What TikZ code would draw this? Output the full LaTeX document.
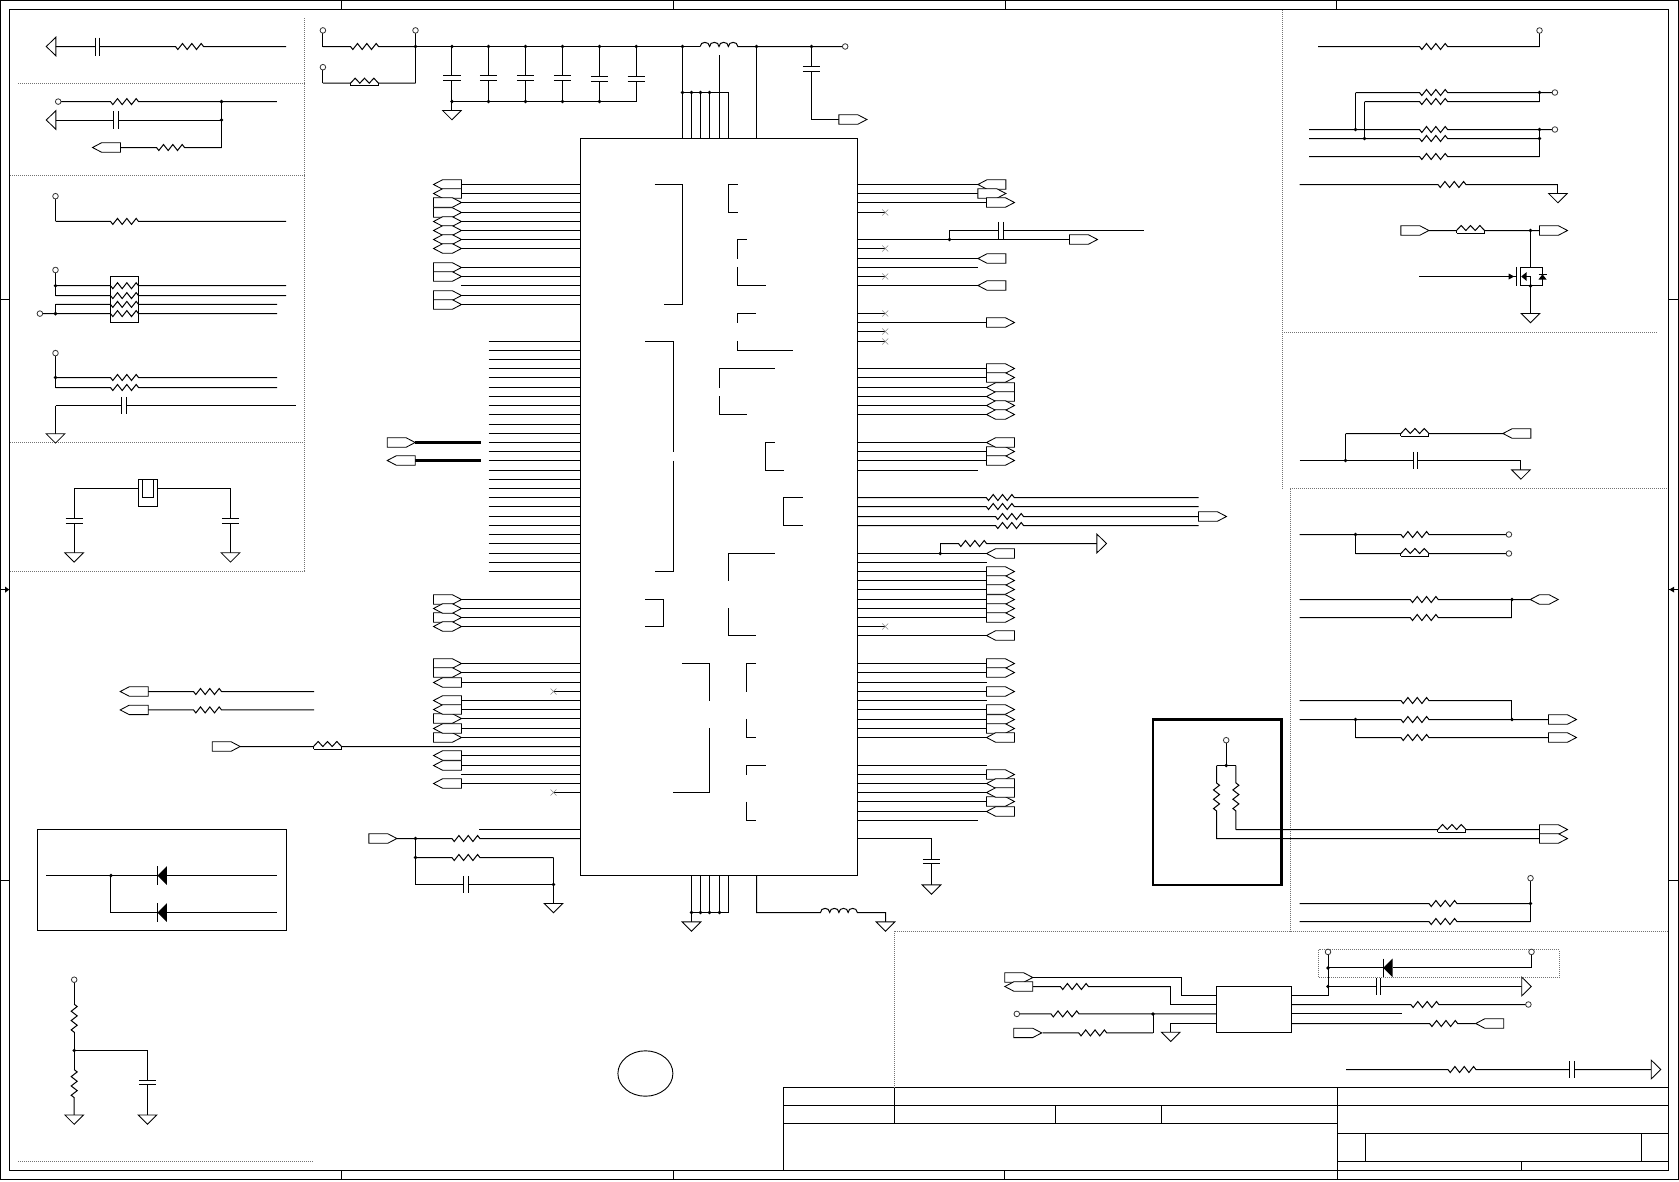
\documentclass[tikz,border=0pt]{standalone}
\usepackage{tikz}
\usetikzlibrary{shapes.geometric}
\tikzset{
  net/.style={line width=1pt,line cap=butt,line join=miter},
  part/.style={line width=0.85pt},
  frameline/.style={line width=1pt},
  dotline/.style={line width=0.7pt,black!55,dash pattern=on 1pt off 1pt},
  nomark/.style={line width=0.5pt,black!45},
  boxnode/.style={draw,line width=1pt,inner sep=0pt,outer sep=0pt,anchor=north west}
}
\newcommand\wire[3]{\draw[net] (#1,#3) -- (#2,#3);}
\newcommand\zigH{-- ++(2.33,3) -- ++(4.67,-6) -- ++(4.67,6) -- ++(4.67,-6) -- ++(4.67,6) -- ++(4.67,-6) -- ++(2.33,3)}
\newcommand\zigV{-- ++(3,2.33) -- ++(-6,4.67) -- ++(6,4.67) -- ++(-6,4.67) -- ++(6,4.67) -- ++(-6,4.67) -- ++(3,2.33)}
\newcommand\wireR[4]{\draw[net] (#1,#4) -- ({#3-14},#4) \zigH -- (#2,#4);}
\newcommand\wireB[4]{\draw[net] (#1,#4) -- ({#3-14},#4) -- ++(4.67,-5) -- ++(4.67,5) -- ++(4.67,-5) -- ++(4.67,5) -- ++(4.67,-5) -- ++(4.67,5) -- (#2,#4);
  \draw[part] ({#3-14},{#4+2.5}) -- ({#3+14},{#4+2.5}); \draw[part] ({#3-14},#4) -- ++(0,2.5) ({#3+14},#4) -- ++(0,2.5);}
\newcommand\wireC[4]{\draw[net] (#1,#4) -- ({#3-2.4},#4) ({#3+2.4},#4) -- (#2,#4);
  \draw[net] ({#3-2.4},{#4-8.7}) -- ++(0,17.4) ({#3+2.4},{#4-8.7}) -- ++(0,17.4);}
\newcommand\capV[3]{\draw[net] ({#1-8.7},#2) -- ({#1+8.7},#2) ({#1-8.7},#3) -- ({#1+8.7},#3);}
\newcommand\jdot[2]{\fill (#1,#2) circle[radius=1.9pt];}
\newcommand\opin[2]{\draw[line width=0.8pt,black!80,fill=white] (#1,#2) circle[radius=2.8pt];}
\newcommand\gnd[2]{\draw[part,fill=white,shift={(#1,#2)}] (-9.3,0) -- (9.3,0) -- (0,9.3) -- cycle;}
\newcommand\triL[2]{\draw[part,fill=white,shift={(#1,#2)}] (0,-9.4) -- (0,9.4) -- (-9.6,0) -- cycle;}
\newcommand\triR[2]{\draw[part,fill=white,shift={(#1,#2)}] (0,-9.4) -- (0,9.4) -- (9.6,0) -- cycle;}
\newcommand\portR[2]{\draw[part,fill=white,shift={(#1,#2)}] (0,-4.7) -- (19,-4.7) -- (28,0) -- (19,4.7) -- (0,4.7) -- cycle;}
\newcommand\portL[2]{\draw[part,fill=white,shift={(#1,#2)}] (0,0) -- (9,-4.7) -- (28,-4.7) -- (28,4.7) -- (9,4.7) -- cycle;}
\newcommand\portB[2]{\draw[part,fill=white,shift={(#1,#2)}] (0,0) -- (9,-4.7) -- (19,-4.7) -- (28,0) -- (19,4.7) -- (9,4.7) -- cycle;}
\newcommand\ncR[1]{\draw[net] (857.3,#1) -- (885,#1); \draw[nomark] (882,{#1-3}) -- (888,{#1+3}) (882,{#1+3}) -- (888,{#1-3});}
\newcommand\ncL[1]{\draw[net] (553.3,#1) -- (580.3,#1); \draw[nomark] (550.3,{#1-3}) -- (556.3,{#1+3}) (550.3,{#1+3}) -- (556.3,{#1-3});}
\newcommand\diodeL[2]{\draw[net] (#1,{#2-9.4}) -- (#1,{#2+9.4}); \fill[shift={(#1,#2)}] (0,0) -- (9.4,-9.4) -- (9.4,9.4) -- cycle;}
\begin{document}
\begin{tikzpicture}[x=1pt,y=-1pt]
\useasboundingbox (0,0) rectangle (1679,1181);
\fill[white] (0,0) rectangle (1679,1181);
\begin{scope}[shift={(0.2,0.2)}]
% ---------- frame
\draw[frameline] (0.6,0.6) rectangle (1678.2,1179.3);
\draw[frameline] (9.3,9.3) rectangle (1668.3,1170.3);
\draw[frameline] (341.3,0.6) -- (341.3,9.3) (673.3,0.6) -- (673.3,9.3) (1005,0.6) -- (1005,9.3) (1336.7,0.6) -- (1336.7,9.3);
\draw[frameline] (341.3,1170.3) -- (341.3,1179.3) (673.3,1170.3) -- (673.3,1179.3) (1004.6,1170.3) -- (1004.6,1179.3);
\draw[frameline] (0.6,299.3) -- (9.3,299.3) (0.6,880) -- (9.3,880) (1668.3,299.3) -- (1678.2,299.3) (1668.3,880) -- (1678.2,880);
\draw[frameline] (0.6,589.4) -- (9.3,589.4) (1668.3,589.4) -- (1678.2,589.4);
\fill (9,589.4) -- (5,586.4) -- (5,592.4) -- cycle;
\fill (1669,589.4) -- (1674,586.4) -- (1674,592.4) -- cycle;
% ---------- title block
\draw[frameline] (783.2,1087.7) -- (1668.3,1087.7) (783.2,1105.3) -- (1668.3,1105.3) (783.2,1123.3) -- (1337.1,1123.3)
  (1337.1,1133.3) -- (1668.3,1133.3) (1337.1,1161.3) -- (1668.3,1161.3)
  (783.2,1087.7) -- (783.2,1170.3) (894.6,1087.7) -- (894.6,1123.3) (1055.4,1105.3) -- (1055.4,1123.3) (1160.8,1105.3) -- (1160.8,1123.3)
  (1337.1,1087.7) -- (1337.1,1179.3) (1364.8,1133.3) -- (1364.8,1161.3) (1641.6,1133.3) -- (1641.6,1161.3) (1521,1161.3) -- (1521,1170.3);
% ---------- dotted regions
\draw[dotline] (304.3,18) -- (304.3,571.4) (18,82.7) -- (304.3,82.7) (10,175.3) -- (304.3,175.3) (10,442.4) -- (304.3,442.4) (10,571.4) -- (304.3,571.4);
\draw[dotline] (18,1161) -- (313,1161);
\draw[dotline] (1282,10) -- (1282,488.3) (1282,331.7) -- (1657.7,331.7);
\draw[dotline] (1290,488.3) -- (1668,488.3) (1290,488.3) -- (1290,930.7) (894.3,930.7) -- (1668,930.7) (894.3,930.7) -- (894.3,1088);
\draw[dotline] (1318.4,949.3) rectangle (1559,977);
% ---------- top-left blocks
\triL{55.7}{46.3}
\draw[net] (55.7,46.3) -- (95,46.3) (99.7,46.3) -- (175.3,46.3) \zigH -- (286,46.3);
\draw[net] (95,37.3) -- ++(0,18) (99.7,37.3) -- ++(0,18);
\wireR{58}{276.7}{124.3}{101.4}\opin{58}{101.4}
\triL{55.7}{119.8}
\wireC{55.7}{221.3}{116}{119.8}
\draw[net] (221.3,101.4) -- (221.3,147.3);
\wireR{120.3}{221.3}{170.3}{147.3}
\portL{92.3}{147.3}
\jdot{221.3}{101.4}\jdot{221.3}{119.8}
\draw[net] (55.3,196) -- (55.3,221.2);
\wireR{55.3}{286}{124.3}{221.2}\opin{55.3}{196}
% resistor pack
\draw[net] (55.3,269.8) -- (55.3,295.4);
\draw[net] (55.3,304.2) -- (55.3,313.4);
\wireR{55.3}{286}{124.3}{285.5}\wireR{55.3}{286}{124.3}{295.4}
\wireR{55.3}{277}{124.3}{304.2}\wireR{39.7}{277}{124.3}{313.4}
\draw[net] (110.3,276.3) rectangle (138.7,322.2);
\opin{55.3}{269.8}\jdot{55.3}{285.5}\jdot{55.3}{313.4}\opin{39.7}{313.4}
% pair
\draw[net] (55.3,352.9) -- (55.3,387.3);
\wireR{55.3}{277}{124.3}{377.3}\wireR{55.3}{277}{124.3}{387.3}
\opin{55.3}{352.9}\jdot{55.3}{377.3}
\wireC{55.3}{295.3}{124}{405.3}
\draw[net] (55.3,405.3) -- (55.3,433.6);\gnd{55.3}{433.6}
% crystal
\draw[net] (74,552.6) -- (74,522.8) (74,518.2) -- (74,488.3) -- (230.3,488.3) -- (230.3,518.2) (230.3,522.8) -- (230.3,552.6);
\draw[net,fill=white] (138.3,479.5) rectangle (157.3,506.3);
\draw[net] (142.7,479.5) -- (142.7,497.5) -- (153.7,497.5) -- (153.7,479.5);
\capV{74}{518.2}{522.8}\capV{230.3}{518.2}{522.8}
\gnd{74}{552.6}\gnd{230.3}{552.6}
% ---------- power block
\draw[net] (322.7,30.2) -- (322.7,46.3);
\wireR{322.7}{415.3}{364.3}{46.3}
\draw[net] (322.7,67) -- (322.7,83);
\wireB{322.7}{415.3}{364.3}{83}
\draw[net] (415.3,30.2) -- (415.3,83);
\opin{322.7}{30.2}\opin{415.3}{30.2}\opin{322.7}{67}\jdot{415.3}{46.3}
\draw[net] (415.3,46.3) -- (700,46.3);
\draw[net] (700,46.3) .. controls +(0,-5.5) and +(0,-5.5) .. ++(9.4,0) .. controls +(0,-5.5) and +(0,-5.5) .. ++(9.4,0) .. controls +(0,-5.5) and +(0,-5.5) .. ++(9.4,0) .. controls +(0,-5.5) and +(0,-5.5) .. ++(9.4,0) -- (845,46.3);
\opin{845}{46.3}
\foreach \x/\p/\q in {451.7/75.3/80.3,488.3/75.3/80.3,525.3/75.3/80.3,562.3/75.3/80.3,599.3/76.5/81.5,636/76.5/81.5}{
  \draw[net] (\x,46.3) -- (\x,\p) (\x,\q) -- (\x,101.3);
  \capV{\x}{\p}{\q}\jdot{\x}{46.3}
}
\draw[net] (451.7,101.3) -- (636,101.3);
\foreach \x in {451.7,488.3,525.3,562.3,599.3}{\jdot{\x}{101.3}}
\draw[net] (451.7,101.3) -- (451.7,110.3);\gnd{451.7}{110.3}
\jdot{682.3}{46.3}\jdot{756.3}{46.3}\jdot{811.3}{46.3}
\draw[net] (811.3,46.3) -- (811.3,66.3) (811.3,71.3) -- (811.3,119.3) -- (838.7,119.3);\capV{811.3}{66.3}{71.3}\portR{838.7}{119.3}
% ---------- main chip
\node[boxnode,minimum width=277pt,minimum height=737pt] (chip) at (580.3,138.3) {};
\draw[net] (682.3,138.3) -- (682.3,46.3) (691.3,138.3) -- (691.3,92.3) (700.3,138.3) -- (700.3,92.3) (709.3,138.3) -- (709.3,92.3)
  (719.3,138.3) -- (719.3,55) (728.3,138.3) -- (728.3,92.3) -- (682.3,92.3) (756.3,138.3) -- (756.3,46.3);
\foreach \x in {682.3,691.3,700.3,709.3}{\jdot{\x}{92.3}}
% left pins
\foreach \y in {184.3,193.3,202.3,212.3,221.3,230.3,239.3,248.3,267.3,276.3,285.3,295.3,304.3,599.3,608.3,617.3,626.3,663.3,672.3,682.3,700.3,709.3,718.3,728.3,737.3,755.3,765.3,774.3,783.3}{\wire{460.7}{580.3}{\y}}
\foreach \y in {184.3,193.3}{\portL{433.3}{\y}}
\foreach \y in {202.3,212.3,267.3,276.3,295.3,304.3,599.3,617.3,663.3,672.3,718.3,737.3}{\portR{433.3}{\y}}
\foreach \y in {221.3,230.3,239.3,248.3,608.3,626.3}{\portB{433.3}{\y}}
\foreach \y in {682.3,700.3,709.3,728.3,755.3,765.3,783.3}{\portL{433.3}{\y}}
\ncL{691.3}\ncL{792.3}
\foreach \y in {341.3,350.3,359.3,368.3,377.3,387.3,396.3,405.3,414.3,424.3,433.3,442.3,451.3,460.3,470.3,479.3,488.3,497.3,506.3,516.3,525.3,534.3,543.3,553.3,562.3,571.3}{\wire{488.3}{580.3}{\y}}
\draw[line width=2.6pt] (415,442.3) -- (480.3,442.3) (415,460.3) -- (480.3,460.3);
\portR{387}{442.3}\portL{387}{460.3}
% internal bus brackets
\draw[net] (654.3,184.3) -- (682.3,184.3) -- (682.3,304.3) -- (663.3,304.3);
\draw[net] (737.7,184.3) -- (728.3,184.3) -- (728.3,212.3) -- (737.7,212.3);
\draw[net] (746.7,239.3) -- (737.7,239.3) -- (737.7,258.3) (737.7,266.7) -- (737.7,285.3) -- (765.7,285.3);
\draw[net] (756,313.3) -- (737.7,313.3) -- (737.7,322.7) (737.7,340.7) -- (737.7,350.3) -- (793,350.3);
\draw[net] (774.7,368.3) -- (719.3,368.3) -- (719.3,387.3) (719.3,396) -- (719.3,414.3) -- (746.7,414.3);
\draw[net] (774.7,442.3) -- (765.3,442.3) -- (765.3,470.3) -- (783.7,470.3);
\draw[net] (645,341.3) -- (673.3,341.3) -- (673.3,451.7) (673.3,460.3) -- (673.3,571.3) -- (654.3,571.3);
\draw[net] (802.3,497.3) -- (783.3,497.3) -- (783.3,525.3) -- (802.3,525.3);
\draw[net] (774.7,553.3) -- (728.3,553.3) -- (728.3,580.7) (728.3,608) -- (728.3,635.3) -- (756,635.3);
\draw[net] (645,599.3) -- (663.7,599.3) -- (663.7,626.3) -- (645,626.3);
\draw[net] (681.7,663.3) -- (709.3,663.3) -- (709.3,700.7) (709.3,727.7) -- (709.3,792.3) -- (672.7,792.3);
\draw[net] (756,663.3) -- (746.3,663.3) -- (746.3,691.3) (746.3,718.7) -- (746.3,737.3) -- (756,737.3);
\draw[net] (765.7,765.3) -- (746.3,765.3) -- (746.3,774.7) (746.3,801.3) -- (746.3,820.3) -- (756,820.3);
% long signal from the left
\wireB{240}{580.3}{327.3}{746.3}
\portR{212}{746.3}
\draw[net] (479,829.3) -- (580.3,829.3);
\wireR{396.7}{580.3}{465.7}{838.3}
\portR{368.7}{838.3}
\draw[net] (415.3,838.3) -- (415.3,884.3);
\wireR{415.3}{553.3}{465.7}{857.3}
\wireC{415.3}{553.3}{465.7}{884.3}
\draw[net] (553.3,857.3) -- (553.3,903.3);\gnd{553.3}{903.3}
\jdot{415.3}{838.3}\jdot{415.3}{857.3}\jdot{553.3}{884.3}
% bottom pins
\draw[net] (691.3,875.3) -- (691.3,921.7) (700.3,875.3) -- (700.3,912.3) (709.3,875.3) -- (709.3,912.3) (719.3,875.3) -- (719.3,912.3) (728.3,875.3) -- (728.3,912.3) -- (691.3,912.3);
\foreach \x in {691.3,700.3,709.3,719.3}{\jdot{\x}{912.3}}
\gnd{691.3}{921.7}
\draw[net] (756.3,875.3) -- (756.3,912.3) -- (820.3,912.3) .. controls +(0,-5.5) and +(0,-5.5) .. ++(9.2,0) .. controls +(0,-5.5) and +(0,-5.5) .. ++(9.2,0) .. controls +(0,-5.5) and +(0,-5.5) .. ++(9.2,0) .. controls +(0,-5.5) and +(0,-5.5) .. ++(9.2,0) -- (885.3,912.3) -- (885.3,921.7);
\gnd{885.3}{921.7}
% right pins
\foreach \y in {184.3,193.3,258.3,267.3,285.3,470.3,820.3}{\wire{857.3}{977.7}{\y}}
\portL{977.7}{184.3}\portR{977.7}{193.3}\portL{977.7}{258.3}\portL{977.7}{285.3}
\foreach \y in {202.3,322.3,368.3,377.3,387.3,396.3,405.3,414.3,442.3,451.3,460.3,553.3,562.3,571.3,580.3,589.3,599.3,608.3,617.3,635.3,663.3,672.3,682.3,691.3,700.3,709.3,719.3,728.3,737.3,765.3,774.3,783.3,792.3,801.3,811.3}{\wire{857.3}{986.5}{\y}}
\foreach \y in {202.3,322.3,368.3,377.3,451.3,460.3,571.3,580.3,589.3,599.3,608.3,617.3,663.3,672.3,691.3,709.3,719.3,728.3,774.3,801.3}{\portR{986.3}{\y}}
\foreach \y in {387.3,396.3,442.3,553.3,635.3,737.3,783.3,792.3,811.3}{\portL{986.3}{\y}}
\foreach \y in {405.3,414.3}{\portB{986.3}{\y}}
\foreach \y in {212.3,248.3,276.3,313.3,331.3,341.3,626.3}{\ncR{\y}}
\wire{857.3}{1069.3}{239.3}\portR{1069.3}{239.3}
\draw[net] (949.3,239.3) -- (949.3,230.3) -- (998.7,230.3) (1003.3,230.3) -- (1143.3,230.3);
\draw[net] (998.7,221.7) -- (998.7,239.3) (1003.3,221.7) -- (1003.3,239.3);
\jdot{949.3}{239.3}
\wireR{857.3}{1198.3}{1000}{497.3}\wireR{857.3}{1198.3}{1000}{506.3}
\wireR{857.3}{1198.3}{1009.3}{516.3}\wireR{857.3}{1198.3}{1009.3}{525.3}
\portR{1198.3}{516.3}
\draw[net] (940,553.3) -- (940,543.3);
\wireR{940}{1096.7}{972.3}{543.3}
\jdot{940}{553.3}\triR{1096.7}{543.3}
\draw[net] (857.3,838.3) -- (931.3,838.3) -- (931.3,859.3) (931.3,863.3) -- (931.3,884.7);
\capV{931.3}{859.3}{863.3}\gnd{931.3}{884.7}
% ---------- thick box
\node[boxnode,line width=2.7pt,minimum width=128.8pt,minimum height=165.4pt] (tbox) at (1152.7,719.3) {};
\draw[net] (1226,740) -- (1226,765.3);
\draw[net] (1216.3,765.3) -- (1235.7,765.3);
\draw[net] (1216.3,765.3) -- (1216.3,782.7) \zigV -- (1216.3,838.3) -- (1539.3,838.3);
\draw[net] (1235.7,765.3) -- (1235.7,782.7) \zigV -- (1235.7,829.3);
\wireB{1235.7}{1539.3}{1451.7}{829.3}
\opin{1226}{740}\jdot{1226}{765.3}
\portR{1539.3}{829.3}\portR{1539.3}{838.3}
% ---------- top right
\draw[net] (1539.3,30.3) -- (1539.3,46.3);
\wireR{1318}{1539.3}{1433.3}{46.3}\opin{1539.3}{30.3}
\draw[net] (1355.3,129.3) -- (1355.3,92.3);\wireR{1355.3}{1554.7}{1433.3}{92.3}
\draw[net] (1364.3,138.3) -- (1364.3,101.3);\wireR{1364.3}{1539.3}{1433.3}{101.3}
\draw[net] (1539.3,92.3) -- (1539.3,101.3);
\wireR{1309}{1554.7}{1433.3}{129.3}\wireR{1309}{1539.3}{1433.3}{138.3}\wireR{1309}{1539.3}{1433.3}{156.3}
\draw[net] (1539.3,129.3) -- (1539.3,156.3);
\jdot{1539.3}{92.3}\opin{1554.7}{92.3}\jdot{1539.3}{129.3}\jdot{1539.3}{138.3}\opin{1554.7}{129.3}\jdot{1355.3}{129.3}\jdot{1364.3}{138.3}
\wireR{1299.3}{1557.7}{1451.7}{184.3}
\draw[net] (1557.7,184.3) -- (1557.7,193.3);\gnd{1557.7}{193.3}
\wireB{1428.7}{1539.3}{1470.3}{230.3}
\portR{1400.7}{230.3}\portR{1539.3}{230.3}
\draw[net] (1530.3,230.3) -- (1530.3,267.3);\jdot{1530.3}{230.3}
% MOSFET
\draw[net] (1419,276.3) -- (1516.3,276.3);
\fill (1514,276.3) -- (1508.5,273.3) -- (1508.5,279.3) -- cycle;
\draw[net] (1516.3,266.7) -- (1516.3,285.7);
\draw[net] (1520.3,267.3) rectangle (1542.3,285.7);
\draw[net] (1530.3,276.3) -- (1530.3,313.3);
\draw[net] (1522,276.3) -- (1530.3,276.3);
\fill (1521,276.3) -- (1526.5,271.8) -- (1526.5,280.8) -- cycle;
\fill (1542.3,274) -- (1538.3,279.3) -- (1546.3,279.3) -- cycle;
\draw[net] (1538.3,274) -- (1546.3,274);
\jdot{1530.3}{285.7}
\gnd{1530.3}{313.3}
% block below dotted line
\draw[net] (1345.3,460.3) -- (1345.3,433.3);
\wireB{1345.3}{1502.7}{1414.7}{433.3}
\portL{1502.7}{433.3}
\wireC{1299.3}{1520.7}{1415.3}{460.3}
\jdot{1345.3}{460.3}
\draw[net] (1520.7,460.3) -- (1520.7,469.7);\gnd{1520.7}{469.7}
% ---------- right box
\wireR{1299.3}{1508.7}{1414.7}{534.3}\jdot{1355.3}{534.3}\opin{1508.7}{534.3}
\draw[net] (1355.3,534.3) -- (1355.3,553.3);
\wireB{1355.3}{1508.7}{1414.7}{553.3}\opin{1508.7}{553.3}
\wireR{1299.3}{1530}{1424}{599.3}\wireR{1299.3}{1511.7}{1424}{617.3}
\draw[net] (1511.7,599.3) -- (1511.7,617.3);\jdot{1511.7}{599.3}\portB{1530}{599.3}
\wireR{1299.3}{1511.7}{1414.7}{700.3}\wireR{1299.3}{1548.3}{1414.7}{719.3}\wireR{1355.3}{1548.3}{1414.7}{737.3}
\draw[net] (1511.7,700.3) -- (1511.7,719.3) (1355.3,719.3) -- (1355.3,737.3);
\jdot{1355.3}{719.3}\jdot{1511.7}{719.3}\portR{1548.3}{719.3}\portR{1548.3}{737.3}
\wireR{1299.3}{1530.3}{1442.7}{903.3}\wireR{1299.3}{1530.3}{1442.7}{921.3}
\draw[net] (1530.3,878) -- (1530.3,921.3);\opin{1530.3}{878}\jdot{1530.3}{903.3}
% ---------- bottom right IC
\node[boxnode,minimum width=74.6pt,minimum height=46.4pt] (ic) at (1216.6,986.3) {};
\draw[net] (1032.7,977.3) -- (1181,977.3) -- (1181,995.3) -- (1216.6,995.3);
\portR{1004.6}{977.3}
\wireR{1032.7}{1170.6}{1074.2}{986.3}
\draw[net] (1170.6,986.3) -- (1170.6,1004.3) -- (1216.6,1004.3);
\portL{1004.6}{986.3}
\wireR{1016.6}{1216.6}{1064.8}{1013.7}\opin{1016.6}{1013.7}
\wireR{1042.5}{1152.8}{1092.5}{1032.7}\portR{1013.5}{1032.7}
\draw[net] (1152.8,1032.7) -- (1152.8,1013.7);\jdot{1152.8}{1013.7}
\draw[net] (1216.6,1023.3) -- (1170.6,1023.3) -- (1170.6,1032);\gnd{1170.6}{1032}
\draw[net] (1291.2,995.3) -- (1327.8,995.3) -- (1327.8,951.7);
\draw[net] (1327.8,967.7) -- (1383,967.7) (1393,967.7) -- (1531.3,967.7) -- (1531.3,951.7);
\diodeL{1383}{967.7}
\opin{1327.8}{951.7}\opin{1531.3}{951.7}\jdot{1327.8}{967.7}\jdot{1327.8}{986.3}
\wireC{1327.8}{1521.5}{1378.2}{986.3}\triR{1521.5}{986.3}
\wireR{1291.2}{1528.2}{1424.6}{1004.3}\opin{1528.2}{1004.3}
\wire{1291.2}{1401.9}{1013.7}
\wireR{1291.2}{1475.5}{1443.4}{1023.3}\portL{1475.5}{1023.3}
\draw[net] (1346,1069.3) -- (1447.7,1069.3) \zigH -- (1569.1,1069.3) (1573.9,1069.3) -- (1651,1069.3);
\draw[net] (1569.1,1060.6) -- ++(0,17.4) (1573.9,1060.6) -- ++(0,17.4);
\triR{1651}{1069.3}
% ---------- left-bottom ports
\wireR{147.7}{314}{207.3}{691.3}\portL{120}{691.3}
\wireR{147.7}{314}{207.3}{709.7}\portL{120}{709.7}
% ---------- diode frame
\draw[net] (37.3,829.4) rectangle (286.7,930.5);
\draw[net] (46,875.3) -- (157.3,875.3) (166.7,875.3) -- (276.7,875.3);
\diodeL{157.3}{875.3}
\jdot{110.7}{875.3}
\draw[net] (110.7,875.3) -- (110.7,912.3) -- (157.3,912.3) (166.7,912.3) -- (276.7,912.3);
\diodeL{157.3}{912.3}
% ---------- divider
\draw[net] (74,979.5) -- (74,1004);
\draw[net] (74,1004) \zigV;
\draw[net] (74,1032) -- (74,1069.4);
\draw[net] (74,1069.4) \zigV -- (74,1114.8);
\draw[net] (74,1050.3) -- (147.3,1050.3) -- (147.3,1080.3) (147.3,1084.4) -- (147.3,1114.8);
\capV{147.3}{1080.3}{1084.4}
\opin{74}{979.5}\jdot{74}{1050.3}
\gnd{74}{1114.8}\gnd{147.3}{1114.8}
% ---------- ellipse
\node[draw,ellipse,line width=0.9pt,minimum width=55pt,minimum height=45.4pt,inner sep=0pt,outer sep=0pt] (seal) at (645.2,1073.3) {};
\end{scope}
\end{tikzpicture}
\end{document}
